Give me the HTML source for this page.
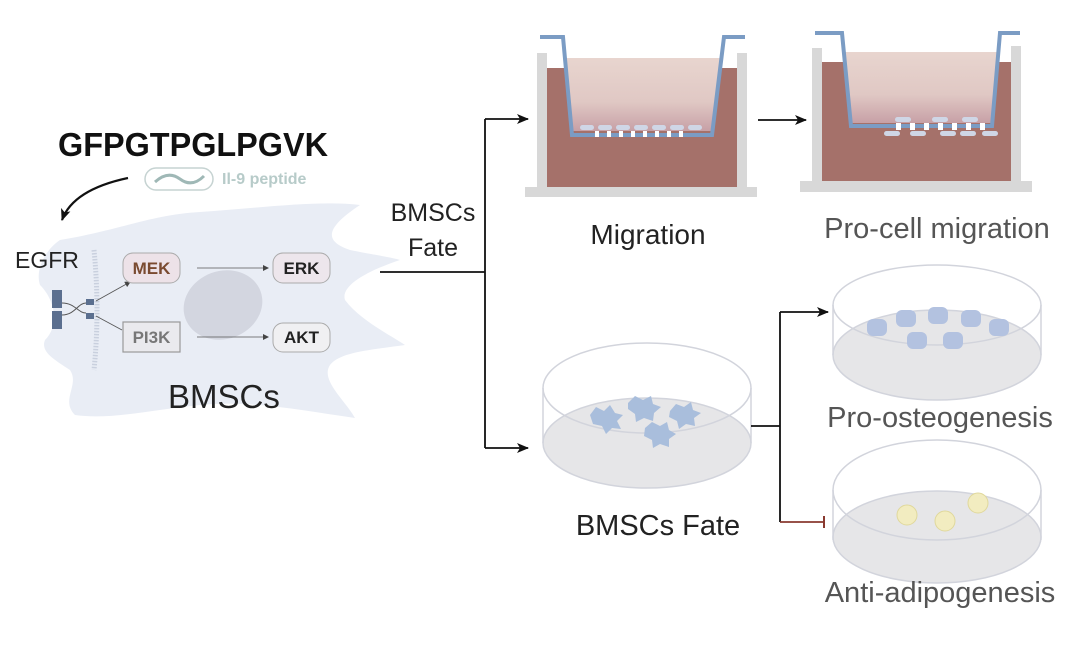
<!DOCTYPE html>
<html><head><meta charset="utf-8"><style>
html,body{margin:0;padding:0;background:#fff;}
svg{display:block;font-family:"Liberation Sans",Arial,sans-serif;}
</style></head><body>
<svg width="1080" height="653" viewBox="0 0 1080 653" xmlns="http://www.w3.org/2000/svg">
<defs>
<linearGradient id="pk" x1="0" y1="0" x2="0" y2="1">
<stop offset="0" stop-color="#e8d5cf"/><stop offset="0.6" stop-color="#e0c8c4"/><stop offset="1" stop-color="#c7a0a6"/>
</linearGradient>
<marker id="ah" markerWidth="12" markerHeight="10" refX="11" refY="5" orient="auto" markerUnits="userSpaceOnUse"><path d="M0,0 L12,5 L0,10 L3,5 Z" fill="#111"/></marker>
<marker id="sa" markerWidth="6" markerHeight="6" refX="5" refY="3" orient="auto" markerUnits="userSpaceOnUse"><path d="M0,0 L6,3 L0,6 Z" fill="#444"/></marker>
</defs>

<!-- cell body -->
<path d="M60,240 C120,230 150,215 200,212 C260,208 320,200 360,205 C330,225 320,240 350,250 C375,255 395,258 400,260 C370,270 340,285 345,300 C360,320 390,335 405,345 C370,350 340,352 330,365 C320,380 345,400 355,418 C300,410 250,400 200,405 C150,410 110,420 75,415 C60,400 80,385 70,370 C55,360 40,352 45,340 C60,325 55,300 40,285 C35,270 45,250 60,240 Z" fill="#e9edf5"/>
<ellipse cx="223" cy="305" rx="40" ry="34" fill="#d3d6e0" transform="rotate(-20 223 305)"/>
<path d="M94,250 Q100,310 94,370" stroke="#c9d0de" stroke-width="5" fill="none" stroke-dasharray="1.5 1.5"/>

<text x="58" y="156" font-size="33" font-weight="bold" fill="#111" textLength="270" lengthAdjust="spacingAndGlyphs">GFPGTPGLPGVK</text>
<rect x="145" y="168" width="68" height="22" rx="11" fill="none" stroke="#c6d3d2" stroke-width="1.5"/>
<path d="M155,182 Q168,170 180,179 Q192,188 204,176" stroke="#9fb8b6" stroke-width="3" fill="none"/>
<text x="222" y="184" font-size="16" font-weight="bold" fill="#b7cbc9">Il-9 peptide</text>
<path d="M128,178 C95,185 70,198 62,220" stroke="#111" stroke-width="2.2" fill="none" marker-end="url(#ah)"/>

<text x="15" y="268" font-size="23" fill="#222">EGFR</text>
<rect x="52" y="290" width="10" height="18" fill="#5b6f8f"/>
<rect x="52" y="311" width="10" height="18" fill="#5b6f8f"/>
<path d="M62,303 C75,303 78,313 86,313 M62,315 C75,315 78,303 86,303" stroke="#555" stroke-width="1" fill="none"/>
<rect x="86" y="299" width="8" height="6" fill="#5b6f8f"/>
<rect x="86" y="313" width="8" height="6" fill="#5b6f8f"/>
<line x1="96" y1="301" x2="130" y2="282" stroke="#555" stroke-width="0.8" marker-end="url(#sa)"/>
<line x1="96" y1="316" x2="122" y2="330" stroke="#555" stroke-width="0.8"/>

<rect x="123" y="253" width="57" height="30" rx="10" fill="#ede2e8" stroke="#aaa" stroke-width="1"/>
<text x="151.5" y="274" font-size="17" font-weight="bold" fill="#7a4a30" text-anchor="middle">MEK</text>
<rect x="273" y="253" width="57" height="30" rx="10" fill="#ede6ec" stroke="#aaa" stroke-width="1"/>
<text x="301.5" y="274" font-size="17" font-weight="bold" fill="#222" text-anchor="middle">ERK</text>
<rect x="123" y="322" width="57" height="30" fill="#eaeaee" stroke="#999" stroke-width="1.2"/>
<text x="151.5" y="343" font-size="17" font-weight="bold" fill="#777" text-anchor="middle">PI3K</text>
<rect x="273" y="323" width="57" height="29" rx="10" fill="#f0f0f2" stroke="#aaa" stroke-width="1"/>
<text x="301.5" y="343" font-size="17" font-weight="bold" fill="#222" text-anchor="middle">AKT</text>
<line x1="197" y1="268" x2="268" y2="268" stroke="#555" stroke-width="0.8" marker-end="url(#sa)"/>
<line x1="197" y1="337" x2="268" y2="337" stroke="#555" stroke-width="0.8" marker-end="url(#sa)"/>
<text x="168" y="408" font-size="33" fill="#222">BMSCs</text>

<!-- main branch -->
<text x="433" y="221" font-size="25" fill="#222" text-anchor="middle">BMSCs</text>
<text x="433" y="256" font-size="25" fill="#222" text-anchor="middle">Fate</text>
<path d="M380,272 H485 M485,119 V448" stroke="#111" stroke-width="1.8" fill="none"/>
<line x1="485" y1="119" x2="528" y2="119" stroke="#111" stroke-width="1.8" marker-end="url(#ah)"/>
<line x1="485" y1="448" x2="528" y2="448" stroke="#111" stroke-width="1.8" marker-end="url(#ah)"/>

<!-- well 1 -->
<rect x="537" y="53" width="10" height="135" fill="#d8d8d8"/>
<rect x="737" y="53" width="10" height="135" fill="#d8d8d8"/>
<rect x="525" y="187" width="232" height="10" fill="#d8d8d8"/>
<rect x="547" y="68" width="190" height="119" fill="#a5716a"/>
<polygon points="566,58 722,58 713,131 572,131" fill="url(#pk)"/>
<path d="M540,37 H563 L572,135 H712 L724,37 H745" stroke="#7b9cc4" stroke-width="4" fill="none"/>
<g fill="#cfd6e6">
<rect x="580" y="125" width="14" height="5" rx="2.5"/><rect x="598" y="125" width="14" height="5" rx="2.5"/><rect x="616" y="125" width="14" height="5" rx="2.5"/><rect x="634" y="125" width="14" height="5" rx="2.5"/><rect x="652" y="125" width="14" height="5" rx="2.5"/><rect x="670" y="125" width="14" height="5" rx="2.5"/><rect x="688" y="125" width="14" height="5" rx="2.5"/>
</g>
<g fill="#fff">
<rect x="595" y="131" width="4" height="6"/><rect x="607" y="131" width="4" height="6"/><rect x="619" y="131" width="4" height="6"/><rect x="631" y="131" width="4" height="6"/><rect x="643" y="131" width="4" height="6"/><rect x="655" y="131" width="4" height="6"/><rect x="667" y="131" width="4" height="6"/><rect x="679" y="131" width="4" height="6"/>
</g>
<text x="648" y="244" font-size="28" fill="#222" text-anchor="middle">Migration</text>

<line x1="758" y1="120" x2="806" y2="120" stroke="#111" stroke-width="1.8" marker-end="url(#ah)"/>

<!-- well 2 -->
<rect x="812" y="48" width="10" height="134" fill="#d8d8d8"/>
<rect x="1011" y="46" width="10" height="136" fill="#d8d8d8"/>
<rect x="800" y="181" width="232" height="11" fill="#d8d8d8"/>
<rect x="822" y="62" width="189" height="119" fill="#a5716a"/>
<polygon points="845,52 998,52 991,123 851,123" fill="url(#pk)"/>
<path d="M815,33 H842 L851,126 H992 L1000,33 H1020" stroke="#7b9cc4" stroke-width="4" fill="none"/>
<g fill="#cfd6e6">
<rect x="895" y="117" width="16" height="5" rx="2.5"/><rect x="932" y="117" width="16" height="5" rx="2.5"/><rect x="962" y="117" width="16" height="5" rx="2.5"/>
<rect x="884" y="131" width="16" height="5" rx="2.5"/><rect x="910" y="131" width="16" height="5" rx="2.5"/><rect x="940" y="131" width="16" height="5" rx="2.5"/><rect x="960" y="131" width="16" height="5" rx="2.5"/><rect x="982" y="131" width="16" height="5" rx="2.5"/>
</g>
<g fill="#fff">
<rect x="896" y="123" width="5" height="7"/><rect x="910" y="123" width="5" height="7"/><rect x="924" y="123" width="5" height="7"/><rect x="938" y="123" width="5" height="7"/><rect x="952" y="123" width="5" height="7"/><rect x="966" y="123" width="5" height="7"/><rect x="980" y="123" width="5" height="7"/>
</g>
<text x="937" y="238" font-size="29" fill="#555" text-anchor="middle">Pro-cell migration</text>

<!-- dish left -->
<g stroke="#d2d4dc" stroke-width="1.5">
<ellipse cx="647" cy="443" rx="104" ry="45" fill="#e6e6e8"/>
<ellipse cx="647" cy="388" rx="104" ry="45" fill="none"/>
<line x1="543" y1="388" x2="543" y2="443"/><line x1="751" y1="388" x2="751" y2="443"/>
</g>
<g fill="#a9bedc">
<path d="M590,415 l6,-8 l8,4 l6,-6 l5,8 l8,2 l-6,6 l4,8 l-9,-1 l-6,6 l-4,-8 l-9,-2 z"/>
<path d="M628,403 l7,-7 l8,4 l8,-4 l2,8 l8,3 l-7,6 l-1,8 l-9,-3 l-8,4 l-1,-8 l-7,-5 z"/>
<path d="M670,411 l6,-7 l8,3 l7,-5 l2,8 l8,3 l-7,5 l1,8 l-9,-2 l-7,5 l-2,-8 l-8,-4 z"/>
<path d="M645,428 l7,-6 l8,4 l7,-4 l2,8 l7,4 l-7,5 l0,8 l-9,-3 l-7,4 l-1,-8 l-8,-4 z"/>
</g>
<text x="658" y="535" font-size="29" fill="#222" text-anchor="middle">BMSCs Fate</text>

<path d="M751,426 H780 M780,312 V522" stroke="#111" stroke-width="1.8" fill="none"/>
<line x1="780" y1="312" x2="828" y2="312" stroke="#111" stroke-width="1.8" marker-end="url(#ah)"/>
<line x1="780" y1="522" x2="824" y2="522" stroke="#8a3a30" stroke-width="1.8"/>
<line x1="824" y1="516" x2="824" y2="528" stroke="#8a3a30" stroke-width="2"/>

<!-- dish top right -->
<g stroke="#d2d4dc" stroke-width="1.5">
<ellipse cx="937" cy="355" rx="104" ry="45" fill="#e6e6e8"/>
<ellipse cx="937" cy="305" rx="104" ry="40" fill="none"/>
<line x1="833" y1="305" x2="833" y2="355"/><line x1="1041" y1="305" x2="1041" y2="355"/>
</g>
<g fill="#b3c2e0">
<rect x="867" y="319" width="20" height="17" rx="6"/><rect x="896" y="310" width="20" height="17" rx="6"/><rect x="928" y="307" width="20" height="17" rx="6"/><rect x="961" y="310" width="20" height="17" rx="6"/><rect x="989" y="319" width="20" height="17" rx="6"/><rect x="907" y="332" width="20" height="17" rx="6"/><rect x="943" y="332" width="20" height="17" rx="6"/>
</g>
<text x="940" y="427" font-size="29" fill="#555" text-anchor="middle">Pro-osteogenesis</text>

<!-- dish bottom right -->
<g stroke="#d2d4dc" stroke-width="1.5">
<ellipse cx="937" cy="537" rx="104" ry="46" fill="#e6e6e8"/>
<ellipse cx="937" cy="490" rx="104" ry="50" fill="none"/>
<line x1="833" y1="490" x2="833" y2="540"/><line x1="1041" y1="490" x2="1041" y2="540"/>
</g>
<g fill="#f2ecc0" stroke="#e0d89c" stroke-width="1">
<circle cx="907" cy="515" r="10"/><circle cx="945" cy="521" r="10"/><circle cx="978" cy="503" r="10"/>
</g>
<text x="940" y="602" font-size="29" fill="#555" text-anchor="middle">Anti-adipogenesis</text>
</svg>
</body></html>
